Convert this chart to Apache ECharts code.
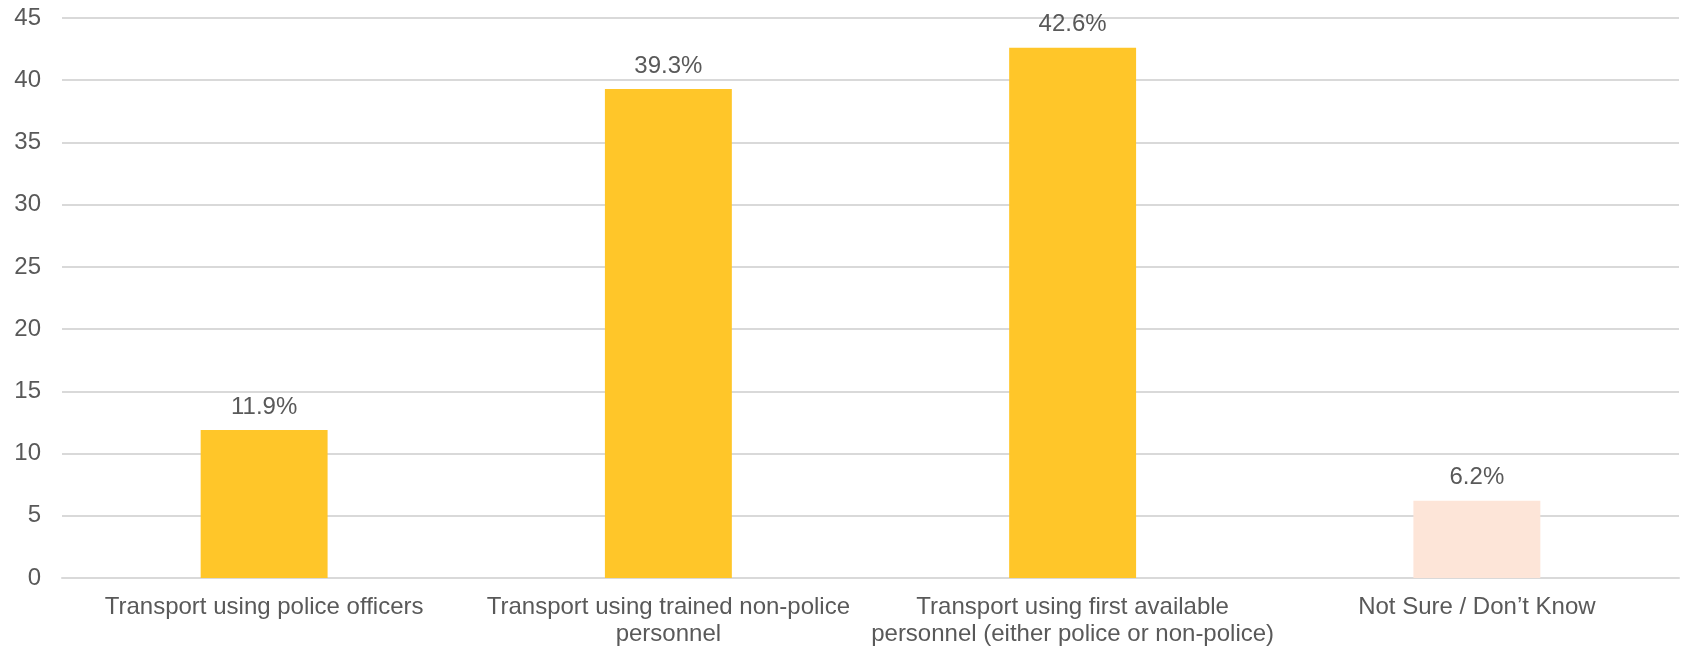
<!DOCTYPE html>
<html>
<head>
<meta charset="utf-8">
<script src="https://cdn.jsdelivr.net/npm/echarts@6/dist/echarts.min.js"></script>
<style>
  html, body { margin: 0; padding: 0; background: #fff; }
  #chart { width: 1683px; height: 648px; }
</style>
</head>
<body>
<div id="chart"></div>
<script>
const categories = [
  "Transport using police officers",
  "Transport using trained non-police\npersonnel",
  "Transport using first available\npersonnel (either police or non-police)",
  "Not Sure / Don\u2019t Know"
];
const values = [11.9, 39.3, 42.6, 6.2];
const barColors = ["#FFC629", "#FFC629", "#FFC629", "#FDE5D8"];

const chart = echarts.init(document.getElementById('chart'), null, { renderer: 'canvas' });
chart.setOption({
  animation: false,
  backgroundColor: '#ffffff',
  grid: { left: 62, right: 4, top: 18, bottom: 68, containLabel: false },
  xAxis: {
    type: 'category',
    data: categories,
    axisLine: { show: true, lineStyle: { color: '#D9D9D9', width: 2 } },
    axisTick: { show: false },
    axisLabel: {
      color: '#595959',
      fontFamily: 'Liberation Sans, Arial, sans-serif',
      fontSize: 24,
      lineHeight: 27,
      margin: 16,
      interval: 0
    }
  },
  yAxis: {
    type: 'value',
    min: 0,
    max: 45,
    interval: 5,
    axisLine: { show: false },
    axisTick: { show: false },
    splitLine: { lineStyle: { color: '#D9D9D9', width: 2 } },
    axisLabel: {
      color: '#595959',
      fontFamily: 'Liberation Sans, Arial, sans-serif',
      fontSize: 24,
      margin: 21
    }
  },
  series: [{
    type: 'bar',
    data: values.map((v, i) => ({ value: v, itemStyle: { color: barColors[i] } })),
    barWidth: '31.4%',
    label: {
      show: true,
      position: 'top',
      distance: 11,
      color: '#595959',
      fontFamily: 'Liberation Sans, Arial, sans-serif',
      fontSize: 24,
      formatter: p => p.value.toFixed(1) + '%'
    }
  }]
});
</script>
</body>
</html>
